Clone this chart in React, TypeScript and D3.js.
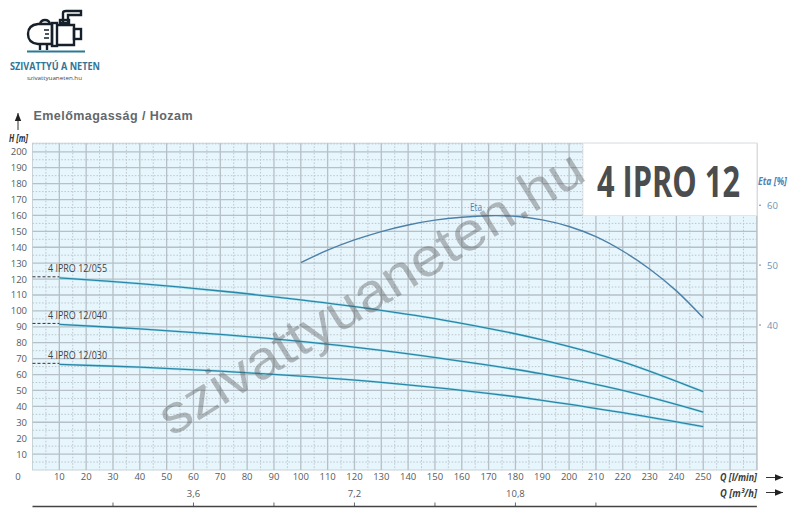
import React from "react";
import * as d3 from "d3";

const flowLmin = [10, 40, 70, 100, 130, 160, 190, 220, 250];
const head055 = [120.8, 117.1, 112.5, 106.9, 100.3, 92.2, 81.8, 68, 49.2];
const head040 = [91.5, 88.7, 85.2, 80.8, 75.2, 68.3, 60.4, 50, 36.4];
const head030 = [66.4, 64.6, 62.2, 59, 55.1, 50.1, 43.8, 36, 27.2];
const etaFlow = [100, 110, 120, 130, 140, 150, 160, 170, 180, 190, 200, 210, 220, 230, 240, 250];
const etaValues = [50.4, 52.5, 54.2, 55.6, 56.7, 57.5, 58, 58.25, 58.15, 57.55, 56.45, 54.75, 52.35, 49.35, 45.7, 41.2];
const models = ["4 IPRO 12/055", "4 IPRO 12/040", "4 IPRO 12/030"];
const headTicks = d3.range(10, 201, 10);
const flowTicks = d3.range(10, 251, 10);
const etaTicks = [60, 50, 40];
const m3hTicks = [30, 60, 90, 120, 150, 180, 210];
const m3hLabels = [[60, "3,6"], [120, "7,2"], [180, "10,8"]] as const;

const x = d3.scaleLinear().domain([0, 270]).range([32.5, 756.9]);
const y = d3.scaleLinear().domain([0, 200]).range([470, 151.8]);
const yEta = d3.scaleLinear().domain([40, 60]).range([325, 205.2]);
const plotTop = y(205.4);

const NARROW = "'Liberation Sans Narrow','Open Sans',sans-serif";
const BODY = "'Open Sans','Noto Sans',sans-serif";
const TEXT = "#555b60";

function Narrow(p: any) {
  const { w, children, ...rest } = p;
  return (
    <text fontFamily={NARROW} textLength={w} lengthAdjust="spacingAndGlyphs" {...rest}>
      {children}
    </text>
  );
}

function Arrow({ x1, y1, x2, y2 }: { x1: number; y1: number; x2: number; y2: number }) {
  const a = Math.atan2(y2 - y1, x2 - x1);
  const l = 8;
  const pts = [
    [x2, y2],
    [x2 - l * Math.cos(a) + 3.2 * Math.sin(a), y2 - l * Math.sin(a) - 3.2 * Math.cos(a)],
    [x2 - l * Math.cos(a) - 3.2 * Math.sin(a), y2 - l * Math.sin(a) + 3.2 * Math.cos(a)],
  ];
  return (
    <g>
      <line x1={x1} y1={y1} x2={x2} y2={y2} stroke="#333" strokeWidth={1} />
      <polygon points={pts.map((q) => q.join(",")).join(" ")} fill="#222" />
    </g>
  );
}

export default function App() {
  const headLine = d3
    .line<number>()
    .x((_, i) => x(flowLmin[i]))
    .y((d) => y(d))
    .curve(d3.curveCatmullRom.alpha(0.5));
  const etaLine = d3
    .line<number>()
    .x((_, i) => x(etaFlow[i]))
    .y((d) => yEta(d))
    .curve(d3.curveCatmullRom.alpha(0.5));
  const heads = [head055, head040, head030];
  const labelW = 59;

  return (
    <svg width={800} height={529} style={{ position: "absolute", left: 0, top: 0, background: "#fff" }}>
      {/* logo */}
      <g fill="none" stroke="#16202a" strokeWidth={2.4}>
        <path d="M52 24 H38 Q28 25 28 34 Q28 43 38 44 H52 Z" />
        <rect x={52} y={23} width={5} height={23} />
        <path d="M57 25 H74 V45 H57" />
        <rect x={74} y={29} width={7} height={10} />
        <path d="M63 23 V13 Q63 11 66 11 H81 V15 H68 V23" />
        <rect x={60} y={20} width={9} height={3} />
        <path d="M40 24 Q41 20 45 20 Q49 20 50 24" />
        <path d="M40 44 V50 M47 44 V50" />
        <path d="M44 30 H49 M45 34 H49 M44 38 H49" strokeWidth={1.5} />
        <path d="M57 33 V35 M57 37 V38" strokeWidth={1} />
      </g>
      <path d="M27 51.5 H85" stroke="#2a7896" strokeWidth={2} />
      <text x={10} y={70} fontFamily="'Open Sans',sans-serif" fontWeight={700} fontSize={10.5} fill="#2f7697" textLength={90} lengthAdjust="spacingAndGlyphs">
        SZIVATTYÚ A NETEN
      </text>
      <text x={27} y={80} fontFamily="'Open Sans',sans-serif" fontSize={6} fill="#444" textLength={55} lengthAdjust="spacingAndGlyphs">
        szivattyuaneten.hu
      </text>

      {/* title and y axis caption */}
      <text x={33.5} y={120} fontFamily="'Liberation Sans',Arial,sans-serif" fontWeight={700} fontSize={12.5} fill="#62686c" textLength={159} lengthAdjust="spacing">
        Emelőmagasság / Hozam
      </text>
      <Arrow x1={18} y1={130} x2={18} y2={113} />
      <Narrow x={9} y={142} w={19} fontSize={10.5} fontWeight={700} fontStyle="italic" fill="#333">
        H [m]
      </Narrow>

      {/* plot */}
      <rect x={x(0)} y={plotTop} width={x(270) - x(0)} height={y(0) - plotTop} fill="#e7f5fc" stroke="#c8d3d8" strokeWidth={1} />
      <g stroke="#bcc6cb" strokeWidth={1} strokeDasharray="1.5 1.7">
        {d3.range(5, 270, 10).map((v) => (
          <line key={v} x1={x(v)} x2={x(v)} y1={plotTop} y2={y(0)} />
        ))}
        {d3.range(5, 206, 10).map((v) => (
          <line key={v} x1={x(0)} x2={x(270)} y1={y(v)} y2={y(v)} />
        ))}
      </g>
      <g stroke="#b6c0c6" strokeWidth={1.3}>
        {d3.range(10, 271, 10).map((v) => (
          <line key={v} x1={x(v)} x2={x(v)} y1={plotTop} y2={y(0)} />
        ))}
        {headTicks.map((v) => (
          <line key={v} x1={x(0)} x2={x(270)} y1={y(v)} y2={y(v)} />
        ))}
      </g>

      {/* model title box */}
      <rect x={583} y={plotTop} width={x(270) - 583} height={y(160) - plotTop} fill="#fff" stroke="#e4e7e9" strokeWidth={1} />
      <Narrow x={597} y={196.5} w={143} fontSize={43} fontWeight={700} fill="#4a4c4e">
        4 IPRO 12
      </Narrow>

      {/* head curves */}
      {heads.map((h, i) => (
        <g key={models[i]}>
          <path d={headLine(h) ?? ""} fill="none" stroke="#8fdcef" strokeWidth={2.4} opacity={0.7} />
          <path d={headLine(h) ?? ""} fill="none" stroke="#2a86a6" strokeWidth={1.3} />
          <line x1={x(0)} x2={x(10)} y1={y(h[0]) - 1} y2={y(h[0]) - 1} stroke="#333" strokeWidth={1} strokeDasharray="3 2" />
          <Narrow x={48} y={y(h[0]) - 5.5} w={labelW} fontSize={11} fill="#3f4345">
            {models[i]}
          </Narrow>
        </g>
      ))}

      {/* efficiency curve */}
      <path d={etaLine(etaValues) ?? ""} fill="none" stroke="#4c80a8" strokeWidth={1.4} />
      <Narrow x={470} y={211} w={12} fontSize={10} fill="#4f84b4">
        Eta
      </Narrow>

      {/* y tick labels */}
      <g fontFamily={BODY} fontSize={9.5} fill={TEXT} textAnchor="end">
        {headTicks.map((v) => (
          <text key={v} x={27} y={y(v) + 3.5}>
            {v}
          </text>
        ))}
      </g>
      <text x={18} y={480} textAnchor="middle" fontFamily={BODY} fontSize={9.5} fill={TEXT}>
        0
      </text>

      {/* x tick labels */}
      <g fontFamily={BODY} fontSize={9.5} fill={TEXT} textAnchor="middle">
        {flowTicks.map((v) => (
          <text key={v} x={x(v)} y={480}>
            {v}
          </text>
        ))}
      </g>

      {/* eta axis */}
      {etaTicks.map((v) => (
        <g key={v}>
          <line x1={759} x2={761} y1={yEta(v)} y2={yEta(v)} stroke="#5b8bb5" strokeWidth={1} />
          <text x={767} y={yEta(v) + 3.5} fontFamily={BODY} fontSize={9.5} fill="#6d94b8">
            {v}
          </text>
        </g>
      ))}
      <Narrow x={758} y={185} w={29} fontSize={10.5} fontWeight={700} fontStyle="italic" fill="#4f84b4">
        Eta [%]
      </Narrow>

      {/* flow captions */}
      <Narrow x={720} y={481} w={37} fontSize={11} fontWeight={700} fontStyle="italic" fill="#3a3d40">
        Q [l/min]
      </Narrow>
      <Arrow x1={766} y1={477.5} x2={783} y2={477.5} />
      <Narrow x={720} y={497} w={37} fontSize={11} fontWeight={700} fontStyle="italic" fill="#3a3d40">
        Q [m³/h]
      </Narrow>
      <Arrow x1={766} y1={492.5} x2={783} y2={492.5} />

      {/* m3/h axis */}
      <line x1={x(0)} x2={x(270)} y1={506.5} y2={506.5} stroke="#444" strokeWidth={1.3} />
      {m3hTicks.map((v) => (
        <line key={v} x1={x(v)} x2={x(v)} y1={502.5} y2={506.5} stroke="#444" strokeWidth={0.8} />
      ))}
      <g fontFamily={BODY} fontSize={9.5} fill={TEXT} textAnchor="middle">
        {m3hLabels.map(([v, t]) => (
          <text key={t} x={x(v)} y={497}>
            {t}
          </text>
        ))}
      </g>

      {/* watermark */}
      <text
        transform="translate(172,437) rotate(-31.8)"
        fontFamily="'Liberation Sans',Arial,sans-serif"
        fontSize={54}
        fill="#55585a"
        fillOpacity={0.4}
        textLength={490}
        lengthAdjust="spacingAndGlyphs"
      >
        szivattyuaneten.hu
      </text>
    </svg>
  );
}
